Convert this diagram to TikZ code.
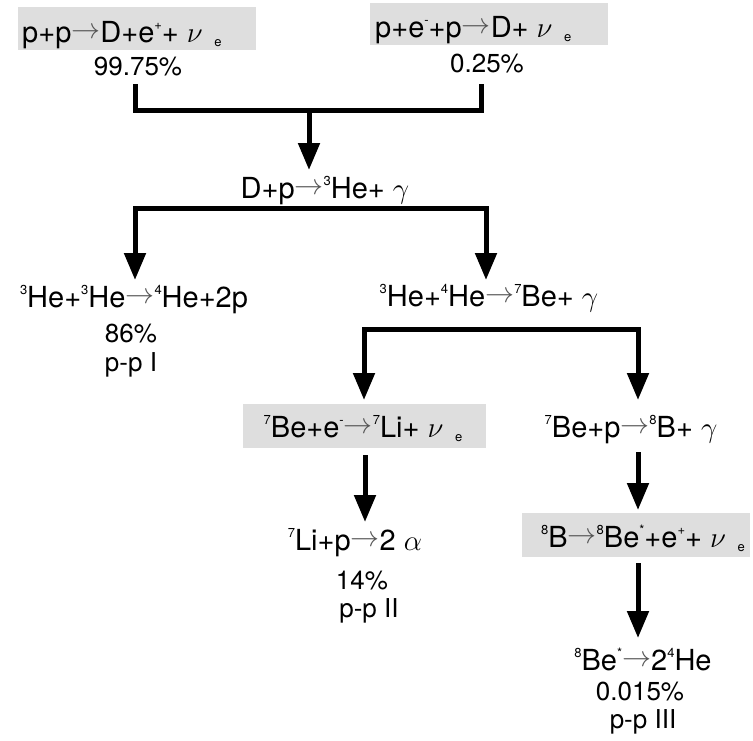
\RequirePackage{fix-cm}
\documentclass[tikz,border=0pt]{standalone}
\usepackage{fontspec}
\setmainfont{TeX Gyre Heros}
\usetikzlibrary{arrows.meta}

\definecolor{boxgray}{RGB}{222,222,222}
\definecolor{arrowgray}{RGB}{85,85,85}

% reaction arrow, small raised/lowered indices, electron neutrino
\newcommand{\ra}{\raisebox{0.12em}{\color{arrowgray}$\rightarrow$}}
\newcommand{\up}[1]{\raisebox{0.42em}{\fontsize{13}{13}\selectfont #1}}
\newcommand{\dn}[1]{\raisebox{-0.15em}{\fontsize{13}{13}\selectfont #1}}
\newcommand{\nue}{$\nu$\hspace{0.4em}\dn{e}}

\begin{document}
\begin{tikzpicture}[x=1pt,y=-1pt,
  eq/.style={font=\fontsize{29}{34}\selectfont, inner sep=0pt, anchor=base},
  pct/.style={font=\fontsize{26}{30}\selectfont, inner sep=0pt, anchor=base},
  shade/.style={fill=boxgray, draw=none, inner sep=0pt, anchor=north west},
  bar/.style={line width=5pt, line join=miter},
  arr/.style={bar, -{Triangle[length=27pt,width=21pt]}},
  darr/.style={bar, {Triangle[length=27pt,width=21pt]}-{Triangle[length=27pt,width=21pt]}}
]
\useasboundingbox (0,0) rectangle (753,740);

% shaded reactions that emit a neutrino
\node[shade, minimum width=238pt, minimum height=43pt] (box1) at (18,7) {};
\node[shade, minimum width=238pt, minimum height=42pt] (box2) at (370,3) {};
\node[shade, minimum width=243pt, minimum height=44pt] (box3) at (243,404) {};
\node[shade, minimum width=228pt, minimum height=44pt] (box4) at (522,513) {};

% starting reactions
\node[eq, anchor=base west] (pp) at (22,42) {p+p\ra D+e\up{+}+ \nue};
\node[eq, anchor=base west] (pep) at (375,37) {p+e\up{-}+p\ra D+ \nue};
\node[pct] (ppfrac) at (138,75) {99.75\%};
\node[pct] (pepfrac) at (487,72) {0.25\%};

% deuterium burning
\node[eq] (dp) at (325,198) {D+p\ra\up{3}He+ $\gamma$};

% branch I
\node[eq] (he33) at (134,307) {\up{3}He+\up{3}He\ra\up{4}He+2p};
\node[pct] (frac1) at (131,342) {86\%};
\node[pct] (name1) at (131,371) {p-p I};

% helium-3 + helium-4
\node[eq] (he34) at (489,306) {\up{3}He+\up{4}He\ra\up{7}Be+ $\gamma$};

% branch II
\node[eq] (bee) at (363,437) {\up{7}Be+e\up{-}\ra\up{7}Li+ \nue};
\node[eq] (lip) at (355,550) {\up{7}Li+p\ra 2 $\alpha$};
\node[pct] (frac2) at (362,589) {14\%};
\node[pct] (name2) at (369,617) {p-p II};

% branch III
\node[eq] (bep) at (631,437) {\up{7}Be+p\ra\up{8}B+ $\gamma$};
\node[eq] (bdecay) at (643,547) {\up{8}B\ra\up{8}Be\up{*}+e\up{+}+ \nue};
\node[eq] (be8) at (643,670) {\up{8}Be\up{*}\ra 2\up{4}He};
\node[pct] (frac3) at (640,700) {0.015\%};
\node[pct] (name3) at (643,728) {p-p III};

% connector end points
\coordinate (j1a) at (135,84);
\coordinate (j1m) at (309,110);
\coordinate (j1b) at (481,84);
\coordinate (j1t) at (309,170);
\coordinate (j2l) at (135,280);
\coordinate (j2c) at (486,208);
\coordinate (j2r) at (486,280);
\coordinate (j3l) at (364,400);
\coordinate (j3c) at (638,329);
\coordinate (j3r) at (638,400);
\coordinate (j4a) at (365,455);
\coordinate (j4t) at (365,522);
\coordinate (j5a) at (638,452);
\coordinate (j5t) at (638,510);
\coordinate (j6a) at (638,563);
\coordinate (j6t) at (638,638);

% connectors
\draw[bar] (j1a) |- (j1m) -| (j1b);
\draw[arr] (j1m) -- (j1t);
\draw[darr] (j2l) |- (j2c) -- (j2r);
\draw[darr] (j3l) |- (j3c) -- (j3r);
\draw[arr] (j4a) -- (j4t);
\draw[arr] (j5a) -- (j5t);
\draw[arr] (j6a) -- (j6t);
\end{tikzpicture}
\end{document}
